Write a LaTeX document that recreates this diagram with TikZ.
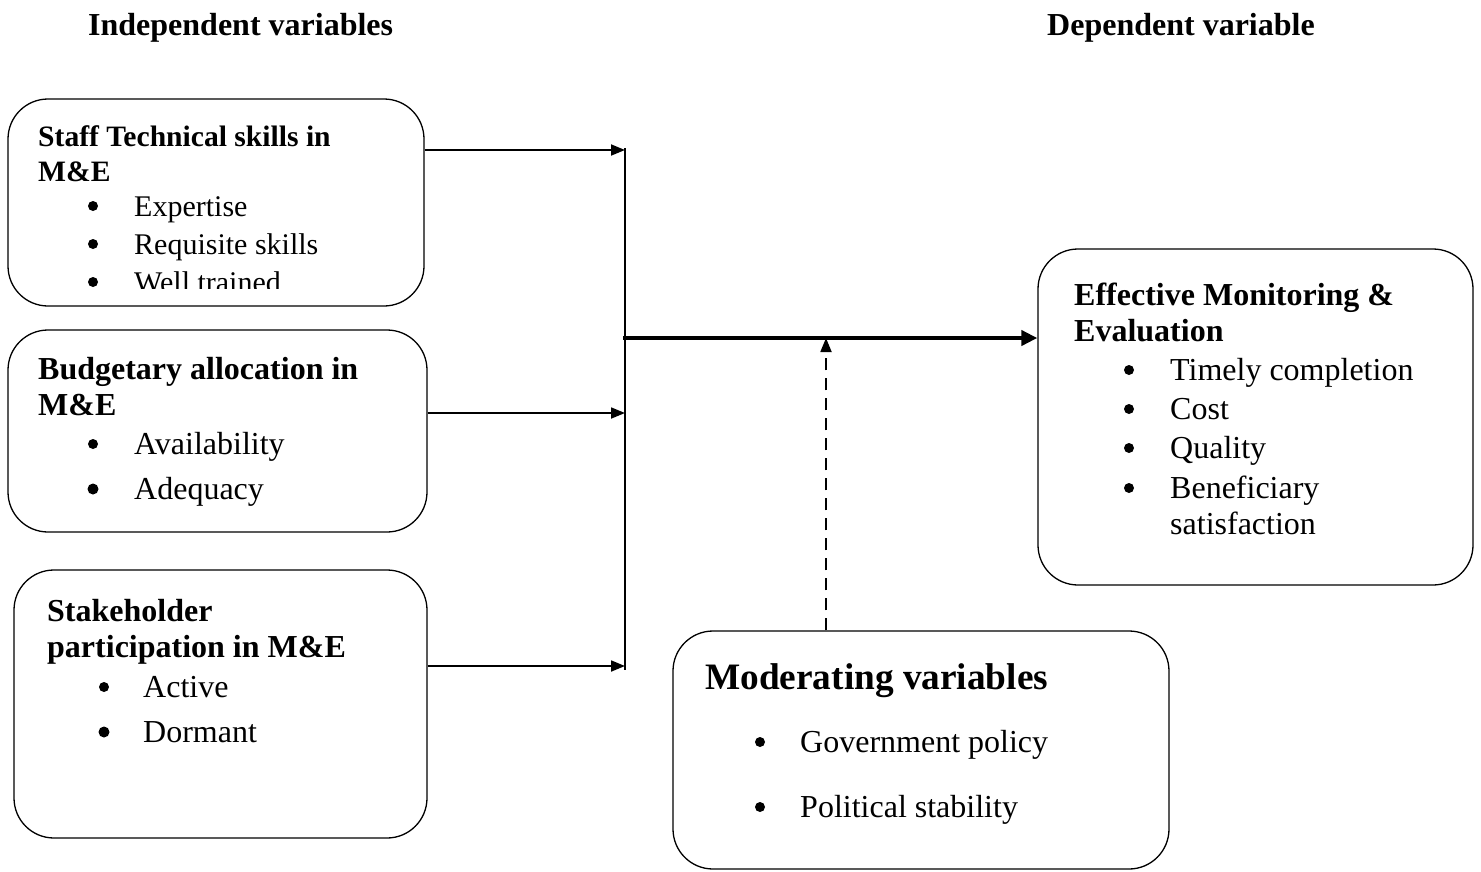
\documentclass[tikz,border=0pt]{standalone}
\usepackage{fontspec}
\setmainfont{Liberation Serif}
\usetikzlibrary{arrows.meta}

\tikzset{
  varbox/.style={draw, line width=1.3, rounded corners=40, inner sep=0},
  headtxt/.style={anchor=base west, inner sep=0, font=\bfseries\fontsize{32}{36}\selectfont},
  itemtxt/.style={anchor=base west, inner sep=0, font=\fontsize{32}{36}\selectfont},
  dot/.style={circle, fill, inner sep=0, minimum size=10},
  small/.style={font=\fontsize{30}{34}\selectfont},
  link/.style={line width=1.8, -{Triangle[length=14pt,width=11pt]}},
}

\begin{document}
\begin{tikzpicture}[x=1pt,y=1pt,yscale=-1,xscale=1]
\useasboundingbox (0,0) rectangle (1481,871);

% Titles
\node[headtxt] (indep) at (88,35) {Independent variables};
\node[headtxt] (dep) at (1047,35) {Dependent variable};

%Shape: Rounded Rect [staff]
\node[varbox, minimum width=416, minimum height=207] (staff) at (216,202.5) {};
%Shape: Rounded Rect [budget]
\node[varbox, minimum width=419, minimum height=202] (budget) at (217.5,431) {};
%Shape: Rounded Rect [stake]
\node[varbox, minimum width=413, minimum height=268] (stake) at (220.5,704) {};
%Shape: Rounded Rect [effect]
\node[varbox, minimum width=435, minimum height=336] (effect) at (1255.5,417) {};
%Shape: Rounded Rect [moder]
\node[varbox, minimum width=496, minimum height=238] (moder) at (921,750) {};

% Text Node
\node[headtxt, font=\bfseries\fontsize{29.6}{34}\selectfont] (staffA) at (38,146) {Staff Technical skills in};
\node[headtxt, font=\bfseries\fontsize{29.6}{34}\selectfont] (staffB) at (38,181) {M\&E};
\node[dot] (sd1) at (93,206) {};
\node[itemtxt, small] (st1) at (134,216) {Expertise};
\node[dot] (sd2) at (93,244) {};
\node[itemtxt, small] (st2) at (134,254) {Requisite skills};
\begin{scope}
\clip (0,0) rectangle (1481,288);
\node[dot] (sd3) at (93,282) {};
\node[itemtxt, small] (st3) at (134,292) {Well trained};
\end{scope}

% Text Node
\node[headtxt] (budA) at (38,379) {Budgetary allocation in};
\node[headtxt] (budB) at (38,415) {M\&E};
\node[dot] (bd1) at (93,444) {};
\node[itemtxt] (bt1) at (134,454) {Availability};
\node[dot, minimum size=11] (bd2) at (93,489) {};
\node[itemtxt] (bt2) at (134,499) {Adequacy};

% Text Node
\node[headtxt] (stkA) at (47,621) {Stakeholder};
\node[headtxt] (stkB) at (47,657) {participation in M\&E};
\node[dot] (kd1) at (104,687) {};
\node[itemtxt] (kt1) at (143,697) {Active};
\node[dot, minimum size=11] (kd2) at (104,732) {};
\node[itemtxt] (kt2) at (143,742) {Dormant};

% Text Node
\node[headtxt] (effA) at (1074,305) {Effective Monitoring \&};
\node[headtxt] (effB) at (1074,341) {Evaluation};
\node[dot] (ed1) at (1129,370) {};
\node[itemtxt] (et1) at (1170,380) {Timely completion};
\node[dot] (ed2) at (1129,409) {};
\node[itemtxt] (et2) at (1170,419) {Cost};
\node[dot] (ed3) at (1129,448) {};
\node[itemtxt] (et3) at (1170,458) {Quality};
\node[dot] (ed4) at (1129,488) {};
\node[itemtxt] (et4) at (1170,498) {Beneficiary};
\node[itemtxt] (et5) at (1170,534) {satisfaction};

% Text Node
\node[headtxt, font=\bfseries\fontsize{37.3}{40}\selectfont] (modA) at (705,689) {Moderating variables};
\node[dot] (md1) at (760,742) {};
\node[itemtxt] (mt1) at (800,752) {Government policy};
\node[dot] (md2) at (760,807) {};
\node[itemtxt] (mt2) at (800,817) {Political stability};

% Connectors
\coordinate (hub1) at (625,150);
\coordinate (hub2) at (625,413);
\coordinate (hub3) at (625,666);
\coordinate (mid) at (623,338);
\coordinate (meet) at (826,338);
\draw[line width=1.3] (625,148) -- (625,670);
\draw[link] (hub1 -| staff.east) -- (hub1);
\draw[link] (hub2 -| budget.east) -- (hub2);
\draw[link] (hub3 -| stake.east) -- (hub3);
\draw[line width=4.5, -{Triangle[length=16pt,width=15pt]}] (mid) -- (mid -| effect.west);
\draw[line width=1.8, dash pattern=on 12pt off 8pt, -{Triangle[length=14pt,width=11pt]}] (meet |- moder.north) -- (meet);

\end{tikzpicture}
\end{document}
